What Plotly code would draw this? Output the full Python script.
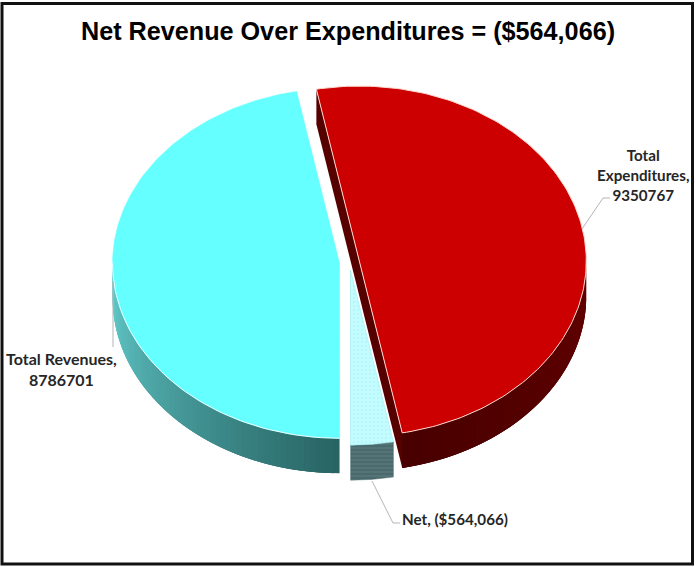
import numpy as np
import plotly.graph_objects as go

# --- data ---
categories = ["Total Expenditures", "Net", "Total Revenues"]
values = [9350767, 564066, 8786701]
title_text = "Net Revenue Over Expenditures = ($564,066)"

# --- styling / geometry of the tilted pie ---
CX, CY = 349.5, 262.5
RX, RY = 227.0, 175.0
DEPTH = 35.0
EXPLODE = 0.044
START_DEG = -10.9

TOP = {"Total Expenditures": "#cc0000", "Net": "#b9fbff", "Total Revenues": "#66ffff"}

fracs = np.array(values, float) / sum(values)
ends = START_DEG + np.cumsum(fracs) * 360
starts = ends - fracs * 360

fig = go.Figure()


def pt(cx, cy, deg):
    t = np.radians(deg)
    return cx + RX * np.sin(t), cy - RY * np.cos(t)


def poly(x, y, fill, line=None, width=0, **kw):
    fig.add_trace(go.Scatter(
        x=list(x), y=list(y), mode="lines", fill="toself", fillcolor=fill,
        line=dict(color=line or fill, width=width),
        hoverinfo="skip", showlegend=False, **kw))


def mix(a, b, f):
    c = [int(round(a[i] + (b[i] - a[i]) * f)) for i in range(3)]
    return "rgb(%d,%d,%d)" % tuple(c)


centres = {}
for name, s, e in zip(categories, starts, ends):
    m = np.radians((s + e) / 2)
    centres[name] = (CX + EXPLODE * RX * np.sin(m), CY - EXPLODE * RY * np.cos(m))
span = {n: (s, e) for n, s, e in zip(categories, starts, ends)}


def wall(name, a0, a1, c0, c1, n=60):
    """Outer rim: each band overlaps the next, so no anti-aliased seams show."""
    cx, cy = centres[name]
    edges = np.linspace(a0, a1, n + 1)
    for i in range(n):
        hi = edges[min(i + 3, n)]
        d = np.linspace(edges[i], hi, 6)
        x, y = pt(cx, cy, d)
        poly(np.r_[x, x[::-1], x[0]], np.r_[y, y[::-1] + DEPTH, y[0]],
             mix(c0, c1, i / (n - 1)))


def top(name, **kw):
    cx, cy = centres[name]
    s, e = span[name]
    d = np.linspace(s, e, 160)
    x, y = pt(cx, cy, d)
    poly(np.r_[cx, x, cx], np.r_[cy, y, cy], TOP[name],
         line=kw.pop("line", "#ffffff"), width=kw.pop("width", 1), **kw)


# Total Revenues: outer wall, top, pale rim highlight
wall("Total Revenues", 180, 270, (40, 100, 100), (100, 205, 205))
top("Total Revenues", line="#66ffff", width=0.5)
rim_x, rim_y = pt(*centres["Total Revenues"], np.linspace(180, 270, 60))
fig.add_trace(go.Scatter(x=list(rim_x), y=list(rim_y), mode="lines",
                         line=dict(color="#e8ffff", width=1),
                         hoverinfo="skip", showlegend=False))

# Net: hatched wall and dotted top
cx, cy = centres["Net"]
s, e = span["Net"]
d = np.linspace(s, e, 20)
x, y = pt(cx, cy, d)
poly(np.r_[x, x[::-1], x[0]], np.r_[y, y[::-1] + DEPTH, y[0]], "#4d6e72", line="#4d6e72", width=0.5,
     fillpattern=dict(shape="-", fgcolor="#3c5559", bgcolor="#557478", size=4, solidity=0.4))
top("Net", line="#8fe6ea", width=0.5,
    fillpattern=dict(shape=".", fgcolor="#a6f2f7", bgcolor="#c4fcff", size=4, solidity=0.3))

# Total Expenditures: inner cut wall, outer wall, top
cx, cy = centres["Total Expenditures"]
s, e = span["Total Expenditures"]
x0, y0 = pt(cx, cy, e)
x1, y1 = pt(cx, cy, s)
poly([x0, x1, x1, x0, x0], [y0, y1, y1 + DEPTH, y0 + DEPTH, y0], "#560000")
wall("Total Expenditures", 90, e, (98, 0, 0), (72, 0, 0))
top("Total Expenditures", line="#ffd9d0", width=1)

# Leader lines
LEAD = "#b5b5b5"
for lx, ly in [([610, 603, 582], [198, 198, 229]),
               ([372, 393, 400], [481, 523, 523]),
               ([113, 113], [347, 281])]:
    fig.add_trace(go.Scatter(x=lx, y=ly, mode="lines", line=dict(color=LEAD, width=1),
                             hoverinfo="skip", showlegend=False))

FONT = dict(family="Lato", size=15.2, color="#262626")
fig.add_annotation(x=643, y=175, text="<b>Total<br>Expenditures,<br>9350767</b>", showarrow=False,
                   font=FONT, align="center", xanchor="center", yanchor="middle")
fig.add_annotation(x=61.5, y=369, text="<b>Total Revenues,<br>8786701</b>", showarrow=False,
                   font=dict(family="Lato", size=16, color="#262626"),
                   align="center", xanchor="center", yanchor="middle")
fig.add_annotation(x=455, y=519, text="<b>Net, ($564,066)</b>", showarrow=False,
                   font=FONT, align="center", xanchor="center", yanchor="middle")

fig.add_shape(type="rect", x0=2, y0=3.5, x1=692.5, y1=564, line=dict(color="#111111", width=3),
              layer="above")

fig.update_layout(
    width=696, height=567, margin=dict(l=0, r=0, t=0, b=0), autosize=False,
    paper_bgcolor="white", plot_bgcolor="white", showlegend=False,
    title=dict(text="<b>%s</b>" % title_text, x=0.5, xanchor="center", y=0.945, yanchor="middle",
               font=dict(family="Liberation Sans", size=25.2, color="#000000")),
    xaxis=dict(range=[0, 696], visible=False, fixedrange=True),
    yaxis=dict(range=[567, 0], visible=False, fixedrange=True),
)

fig.write_html("out.html", config={"displayModeBar": False},
               post_script="document.body.style.margin='0';document.body.style.overflow='hidden';")
